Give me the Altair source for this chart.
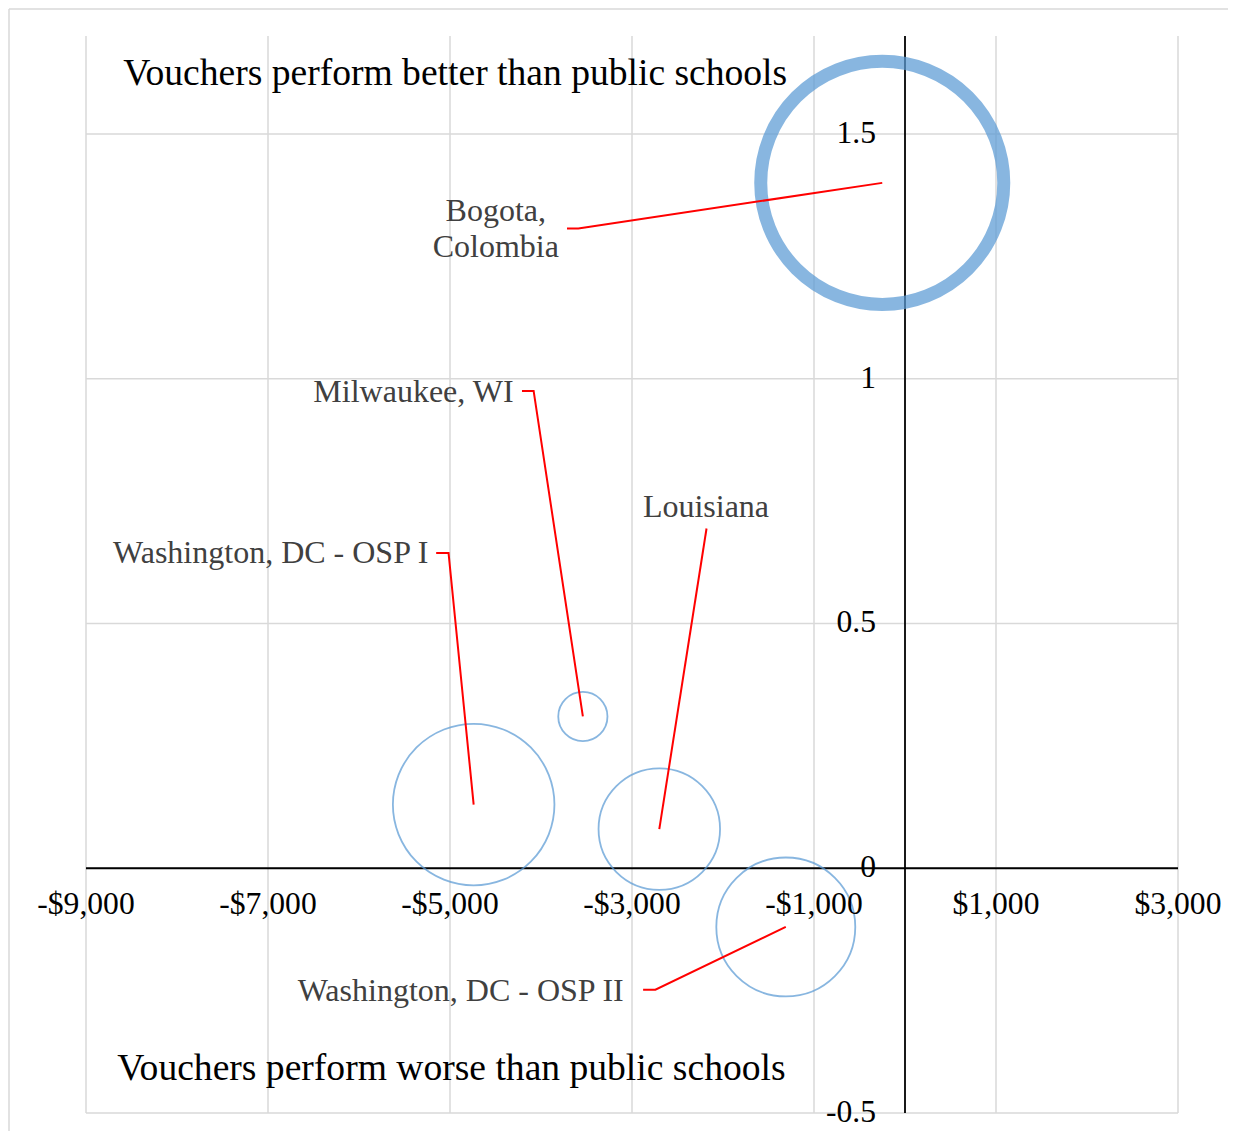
import altair as alt
import pandas as pd

# ---- bubble data ----
sites = ["Bogota, Colombia", "Milwaukee, WI", "Washington, DC - OSP I",
         "Louisiana", "Washington, DC - OSP II"]
label_text = ["Bogota,\nColombia", "Milwaukee, WI", "Washington, DC - OSP I",
              "Louisiana", "Washington, DC - OSP II"]
cost_diff = [-250, -3540, -4740, -2700, -1310]
effect = [1.40, 0.31, 0.13, 0.08, -0.12]
bubble_size = [100, 4.1, 44.2, 25.0, 32.7]

# ---- data-label placement (data coordinates) ----
label_x = [-4497, -4301, -5237, -2187, -3091]
label_y = [1.343, 0.973, 0.644, 0.737, -0.250]
label_align = ["center", "right", "right", "center", "right"]
leader_start_x = [-3714, -4209, -5152, -2181, -2878]
leader_elbow_x = [-3590, -4081, -5016, -2181, -2743]
leader_y = [1.307, 0.975, 0.644, 0.694, -0.248]

# ---- axes ----
x_ticks = [-9000, -7000, -5000, -3000, -1000, 1000, 3000]
x_tick_labels = ["-$9,000", "-$7,000", "-$5,000", "-$3,000", "-$1,000", "$1,000", "$3,000"]
y_ticks = [-0.5, 0, 0.5, 1, 1.5]
y_tick_labels = ["-0.5", "0", "0.5", "1", "1.5"]
x_domain = [-9000, 3000]
y_domain = [-0.5, 1.7]

# ---- quadrant annotations ----
quad_text = ["Vouchers perform better than public schools",
             "Vouchers perform worse than public schools"]
quad_x = [-8592, -8656]
quad_y = [1.623, -0.410]

FONT = "Liberation Serif"
XS = alt.Scale(domain=x_domain, nice=False, zero=False)
YS = alt.Scale(domain=y_domain, nice=False, zero=False)


def X(f):
    return alt.X(f, type="quantitative", scale=XS, axis=None)


def Y(f):
    return alt.Y(f, type="quantitative", scale=YS, axis=None)


bubbles = pd.DataFrame({"site": sites, "x": cost_diff, "y": effect, "size": bubble_size})
labels = pd.DataFrame({"site": sites, "text": label_text, "x": label_x,
                       "y": label_y, "align": label_align})
rows = []
for i, s in enumerate(sites):
    rows.append({"site": s, "order": 0, "x": leader_start_x[i], "y": leader_y[i]})
    rows.append({"site": s, "order": 1, "x": leader_elbow_x[i], "y": leader_y[i]})
    rows.append({"site": s, "order": 2, "x": cost_diff[i], "y": effect[i]})
leaders = pd.DataFrame(rows)
xt = pd.DataFrame({"x": x_ticks, "label": x_tick_labels, "y": [0] * len(x_ticks),
                   "ylo": [y_domain[0]] * len(x_ticks), "yhi": [y_domain[1]] * len(x_ticks)})
yt = pd.DataFrame({"y": y_ticks, "label": y_tick_labels, "x": [0] * len(y_ticks),
                   "xlo": [x_domain[0]] * len(y_ticks), "xhi": [x_domain[1]] * len(y_ticks)})
quads = pd.DataFrame({"text": quad_text, "x": quad_x, "y": quad_y})
xaxis_line = pd.DataFrame({"x": [x_domain[0]], "x2": [x_domain[1]], "y": [0]})
yaxis_line = pd.DataFrame({"x": [0], "y": [y_domain[0]], "y2": [y_domain[1]]})

# outer chart border (top and left edges visible)
frame_top = alt.Chart(xaxis_line).mark_rule(color="#d9d9d9", strokeWidth=1.5).encode(
    x=alt.value(-77), x2=alt.value(1160), y=alt.value(-27))
frame_left = alt.Chart(xaxis_line).mark_rule(color="#d9d9d9", strokeWidth=1.5).encode(
    x=alt.value(-77), y=alt.value(-27), y2=alt.value(1110))

vgrid = alt.Chart(xt).mark_rule(color="#d9d9d9", strokeWidth=1.5).encode(
    x=X("x:Q"), y=Y("ylo:Q"), y2="yhi:Q")
hgrid = alt.Chart(yt).mark_rule(color="#d9d9d9", strokeWidth=1.5).encode(
    y=Y("y:Q"), x=X("xlo:Q"), x2="xhi:Q")

xline = alt.Chart(xaxis_line).mark_rule(color="black", strokeWidth=1.8).encode(
    x=X("x:Q"), x2="x2:Q", y=Y("y:Q"))
yline = alt.Chart(yaxis_line).mark_rule(color="black", strokeWidth=1.8).encode(
    x=X("x:Q"), y=Y("y:Q"), y2="y2:Q")

circles = alt.Chart(bubbles).mark_point(shape="circle", filled=False, color="#5B9BD5",
                                         opacity=0.72).encode(
    x=X("x:Q"), y=Y("y:Q"),
    size=alt.Size("size:Q", scale=alt.Scale(domain=[0, 100], range=[0, 59049]), legend=None),
    strokeWidth=alt.when(alt.datum.site == "Bogota, Colombia").then(alt.value(13)).otherwise(alt.value(1.8)),
)

leader_lines = alt.Chart(leaders).mark_line(color="#ff0000", strokeWidth=2).encode(
    x=X("x:Q"), y=Y("y:Q"), detail="site:N", order="order:Q")

lab_right = alt.Chart(labels).transform_filter("datum.align == 'right'").mark_text(
    align="right", baseline="middle", font=FONT, fontSize=32, color="#404040",
    lineBreak="\n", lineHeight=36.7).encode(x=X("x:Q"), y=Y("y:Q"), text="text:N")
lab_center = alt.Chart(labels).transform_filter("datum.align == 'center'").mark_text(
    align="center", baseline="middle", font=FONT, fontSize=32, color="#404040",
    lineBreak="\n", lineHeight=36.7).encode(x=X("x:Q"), y=Y("y:Q"), text="text:N")

xlab = alt.Chart(xt).mark_text(align="center", baseline="middle", dy=37, font=FONT,
                               fontSize=31.6, color="black").encode(
    x=X("x:Q"), y=Y("y:Q"), text="label:N")
ylab = alt.Chart(yt).mark_text(align="right", baseline="middle", dx=-29, font=FONT,
                               fontSize=31.6, color="black").encode(
    x=X("x:Q"), y=Y("y:Q"), text="label:N")

quad = alt.Chart(quads).mark_text(align="left", baseline="middle", font=FONT,
                                  fontSize=37.6, color="black").encode(
    x=X("x:Q"), y=Y("y:Q"), text="text:N")

chart = alt.layer(
    frame_top, frame_left, vgrid, hgrid, xline, yline, circles, leader_lines,
    lab_right, lab_center, xlab, ylab, quad
).properties(
    width=1092, height=1077,
    padding={"left": 78, "top": 28, "right": 50, "bottom": 18},
    autosize=alt.AutoSizeParams(type="none"),
    background="white",
).configure_view(stroke=None, strokeWidth=0)

chart.save("out.html", embed_options={"renderer": "svg", "actions": False})
